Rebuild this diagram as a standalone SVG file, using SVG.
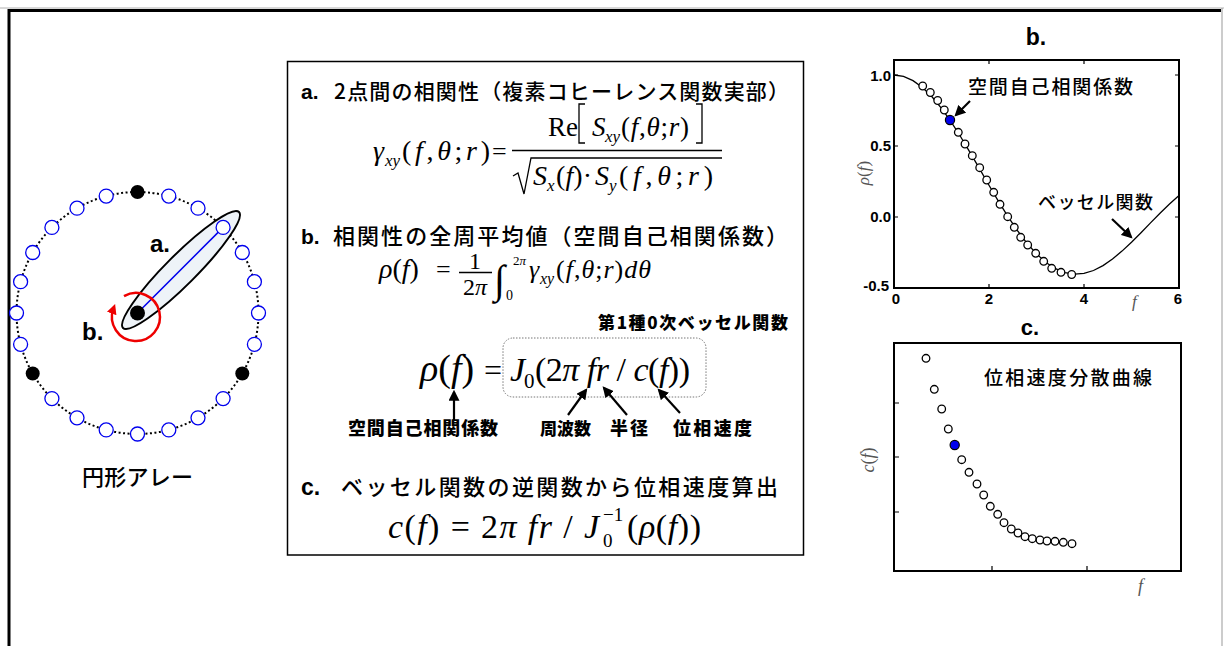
<svg xmlns="http://www.w3.org/2000/svg" width="1224" height="646" viewBox="0 0 1224 646">
<style>
.jp{font-family:"Noto Sans CJK JP","Noto Sans CJK SC",sans-serif}
.b{font-family:"Liberation Sans",Arial,sans-serif;font-weight:bold}
.m{font-family:"Liberation Serif","Times New Roman",serif}
.i{font-style:italic}
.sen{fill:#fff;stroke:#0000ee;stroke-width:1.3}
.blk{fill:#000}
.pt{fill:#fff;stroke:#000;stroke-width:1.3}
.ax{fill:none;stroke:#000;stroke-width:2}
.tk{stroke:#000;stroke-width:1.2}
.arr{stroke:#000;stroke-width:2.2;fill:none;marker-end:url(#ah)}
.lab{fill:#555}
.ln{fill:none;stroke:#000;stroke-width:1.3}
</style>
<defs>
<marker id="ah" viewBox="0 0 10 10" refX="8" refY="5" markerWidth="5" markerHeight="5" orient="auto" markerUnits="strokeWidth"><path d="M0,0 L10,5 L0,10 z" fill="#000"/></marker>
<marker id="rh" viewBox="0 0 10 10" refX="5" refY="5" markerWidth="4" markerHeight="4" orient="auto" markerUnits="strokeWidth"><path d="M0,0 L10,5 L0,10 z" fill="#ee0000"/></marker>
</defs>
<rect width="1224" height="646" fill="#fff"/>
<line x1="0" y1="8" x2="1224" y2="8" stroke="#b0b0b0" stroke-width="1"/>
<path d="M9,646 V10.5 H1221" fill="none" stroke="#000" stroke-width="3"/>
<line x1="1222" y1="8" x2="1222" y2="646" stroke="#999" stroke-width="1"/>

<!-- circular array -->
<g id="array">
<circle cx="137.5" cy="313" r="121" fill="none" stroke="#000" stroke-width="2" stroke-dasharray="2,2.5"/>
<ellipse cx="181" cy="270" rx="82" ry="15" transform="rotate(-45 181 270)" fill="#eef3f8" stroke="#000" stroke-width="2"/>
<line x1="137.5" y1="313" x2="223.1" y2="227.4" stroke="#0000ee" stroke-width="1.5"/>
<circle class="blk" cx="137.5" cy="192" r="7"/>
<circle class="sen" cx="168.8" cy="196.1" r="7"/>
<circle class="sen" cx="198" cy="208.2" r="7"/>
<circle class="sen" cx="223.1" cy="227.4" r="7"/>
<circle class="sen" cx="242.3" cy="252.5" r="7"/>
<circle class="sen" cx="254.4" cy="281.7" r="7"/>
<circle class="sen" cx="258.5" cy="313" r="7"/>
<circle class="sen" cx="254.4" cy="344.3" r="7"/>
<circle class="blk" cx="242.3" cy="373.5" r="7"/>
<circle class="sen" cx="223.1" cy="398.6" r="7"/>
<circle class="sen" cx="198" cy="417.8" r="7"/>
<circle class="sen" cx="168.8" cy="429.9" r="7"/>
<circle class="sen" cx="137.5" cy="434" r="7"/>
<circle class="sen" cx="106.2" cy="429.9" r="7"/>
<circle class="sen" cx="77" cy="417.8" r="7"/>
<circle class="sen" cx="51.9" cy="398.6" r="7"/>
<circle class="blk" cx="32.7" cy="373.5" r="7"/>
<circle class="sen" cx="20.6" cy="344.3" r="7"/>
<circle class="sen" cx="16.5" cy="313" r="7"/>
<circle class="sen" cx="20.6" cy="281.7" r="7"/>
<circle class="sen" cx="32.7" cy="252.5" r="7"/>
<circle class="sen" cx="51.9" cy="227.4" r="7"/>
<circle class="sen" cx="77" cy="208.2" r="7"/>
<circle class="sen" cx="106.2" cy="196.1" r="7"/>
<circle class="blk" cx="137.5" cy="313" r="7.5"/>
<path d="M124,296.2 A24,24 0 1 1 113.4,308.8" fill="none" stroke="#ee0000" stroke-width="2.5" marker-end="url(#rh)"/>
<text class="b" x="150" y="252" font-size="24">a.</text>
<text class="b" x="82" y="340" font-size="24">b.</text>
<text class="jp" x="82" y="485" font-size="22" font-weight="500" textLength="111">円形アレー</text>
</g>

<!-- center box -->
<g id="formulas">
<rect x="287.5" y="61.5" width="516" height="493.5" fill="none" stroke="#000" stroke-width="1.5"/>
<text class="b" x="301" y="99" font-size="21">a.</text>
<text class="jp" x="334" y="99" font-size="21" font-weight="500" textLength="455">2点間の相関性（複素コヒーレンス関数実部）</text>

<text class="m i" x="373" y="160" font-size="28">γ</text>
<text class="m i" x="385" y="166" font-size="17">xy</text>
<text class="m" x="402" y="160" font-size="28" textLength="88">(<tspan class="i">f</tspan>,<tspan class="i">θ</tspan>;<tspan class="i">r</tspan>)</text>
<text class="m" x="492" y="160" font-size="26">=</text>
<line x1="512" y1="150.5" x2="722" y2="150.5" stroke="#000" stroke-width="1.3"/>
<text class="m" x="548" y="136" font-size="27">Re</text>
<path class="ln" d="M585,104 H579 V143 H585"/>
<text class="m i" x="592" y="136" font-size="27">S</text>
<text class="m i" x="605" y="142" font-size="17">xy</text>
<text class="m" x="621" y="136" font-size="27" textLength="68">(<tspan class="i">f</tspan>,<tspan class="i">θ</tspan>;<tspan class="i">r</tspan>)</text>
<path class="ln" d="M696,104 H702 V143 H696"/>
<path class="ln" d="M513,176 L518,173 L524,194 L531,158 H722"/>
<text class="m i" x="533" y="185" font-size="28">S</text>
<text class="m i" x="547" y="191" font-size="17">x</text>
<text class="m" x="556" y="185" font-size="28" textLength="36">(<tspan class="i">f</tspan>)·</text>
<text class="m i" x="595" y="185" font-size="28">S</text>
<text class="m i" x="609" y="191" font-size="17">y</text>
<text class="m" x="619" y="185" font-size="28" textLength="94">(<tspan class="i">f</tspan>,<tspan class="i">θ</tspan>;<tspan class="i">r</tspan>)</text>

<text class="b" x="301" y="244" font-size="21">b.</text>
<text class="jp" x="333" y="244" font-size="22" font-weight="500" textLength="455">相関性の全周平均値（空間自己相関係数）</text>

<text class="m" x="379" y="278" font-size="28"><tspan class="i">ρ</tspan>(<tspan class="i">f</tspan>)</text>
<text class="m" x="436" y="278" font-size="26">=</text>
<text class="m" x="475" y="269" font-size="24" text-anchor="middle">1</text>
<line x1="459" y1="272.5" x2="492" y2="272.5" stroke="#000" stroke-width="1.3"/>
<text class="m" x="475" y="295" font-size="24" text-anchor="middle">2<tspan class="i">π</tspan></text>
<text class="m" x="494" y="293" font-size="40">∫</text>
<text class="m" x="513" y="265" font-size="13">2<tspan class="i">π</tspan></text>
<text class="m" x="506" y="300" font-size="14">0</text>
<text class="m i" x="529" y="278" font-size="26">γ</text>
<text class="m i" x="540" y="284" font-size="16">xy</text>
<text class="m" x="556" y="278" font-size="26" textLength="95">(<tspan class="i">f</tspan>,<tspan class="i">θ</tspan>;<tspan class="i">r</tspan>)<tspan class="i">dθ</tspan></text>

<text class="jp" x="598" y="329" font-size="17" font-weight="900" textLength="190">第1種0次ベッセル関数</text>

<text class="m" x="420" y="381" font-size="38"><tspan class="i">ρ</tspan>(<tspan class="i">f</tspan>)</text>
<text class="m" x="484" y="381" font-size="32">=</text>
<rect x="503" y="338" width="203" height="59" rx="10" fill="none" stroke="#777" stroke-width="1" stroke-dasharray="1.5,1.5"/>
<text class="m i" x="510" y="381" font-size="34">J</text>
<text class="m" x="524" y="388" font-size="21">0</text>
<text class="m" x="535" y="381" font-size="34" textLength="155">(2<tspan class="i">π fr</tspan> / <tspan class="i">c</tspan>(<tspan class="i">f</tspan>))</text>

<path class="arr" d="M454,420 V392"/>
<path class="arr" d="M568,415 L586,390"/>
<path class="arr" d="M627,415 L604,388"/>
<path class="arr" d="M680,413 L659,390"/>
<text class="jp" x="348" y="435" font-size="18" font-weight="900" textLength="150">空間自己相関係数</text>
<text class="jp" x="540" y="435" font-size="17" font-weight="900" textLength="51">周波数</text>
<text class="jp" x="610" y="435" font-size="18" font-weight="900" textLength="38">半径</text>
<text class="jp" x="673" y="435" font-size="18" font-weight="900" textLength="79">位相速度</text>

<text class="b" x="301" y="495" font-size="23">c.</text>
<text class="jp" x="341" y="495" font-size="22" font-weight="500" textLength="437">ベッセル関数の逆関数から位相速度算出</text>

<text class="m" x="388" y="538" font-size="34" textLength="211"><tspan class="i">c</tspan>(<tspan class="i">f</tspan>) = 2<tspan class="i">π fr</tspan> / <tspan class="i">J</tspan></text>
<text class="m" x="603" y="521" font-size="19">−1</text>
<text class="m" x="603" y="547" font-size="19">0</text>
<text class="m" x="627" y="538" font-size="34" textLength="74">(<tspan class="i">ρ</tspan>(<tspan class="i">f</tspan>))</text>
</g>

<!-- plot b -->
<g id="plot-b">
<text class="b" x="1036" y="45" font-size="23" text-anchor="middle">b.</text>
<rect class="ax" x="894" y="60" width="285" height="228"/>
<path class="tk" d="M894,75 h4 M894,146 h4 M894,217 h4 M1179,75 h-4 M1179,146 h-4 M1179,217 h-4 M989,288 v-4 M1084,288 v-4 M989,60 v4 M1084,60 v4"/>
<path fill="none" stroke="#000" stroke-width="1.3" d="M894,75 L903.5,76.4 L913,80.6 L922.5,87.5 L932,96.8 L941.5,108.3 L951,121.7 L960.5,136.5 L970,152.3 L979.5,168.7 L989,185.2 L998.5,201.3 L1008,216.6 L1017.5,230.7 L1027,243.3 L1036.5,253.9 L1046,262.5 L1055.5,268.7 L1065,272.6 L1074.5,274.2 L1084,273.4 L1093.5,270.5 L1103,265.6 L1112.5,259 L1122,251.1 L1131.5,242.2 L1141,232.7 L1150.5,222.9 L1160,213.2 L1169.5,204 L1179,195.6"/>
<circle class="pt" cx="922.7" cy="86" r="3.8"/>
<circle class="pt" cx="930.3" cy="92.5" r="3.8"/>
<circle class="pt" cx="937.7" cy="100.5" r="3.8"/>
<circle class="pt" cx="944.3" cy="110" r="3.8"/>
<circle class="pt" cx="958.3" cy="132.3" r="3.8"/>
<circle class="pt" cx="965" cy="144" r="3.8"/>
<circle class="pt" cx="972.3" cy="155.7" r="3.8"/>
<circle class="pt" cx="979.7" cy="167.7" r="3.8"/>
<circle class="pt" cx="986.7" cy="180" r="3.8"/>
<circle class="pt" cx="993.7" cy="192.3" r="3.8"/>
<circle class="pt" cx="1000" cy="204.3" r="3.8"/>
<circle class="pt" cx="1007.7" cy="216.7" r="3.8"/>
<circle class="pt" cx="1014.3" cy="227.3" r="3.8"/>
<circle class="pt" cx="1020.7" cy="237.3" r="3.8"/>
<circle class="pt" cx="1027.7" cy="245" r="3.8"/>
<circle class="pt" cx="1035.7" cy="253.3" r="3.8"/>
<circle class="pt" cx="1043.7" cy="261.3" r="3.8"/>
<circle class="pt" cx="1051.7" cy="268.3" r="3.8"/>
<circle class="pt" cx="1061" cy="272.3" r="3.8"/>
<circle class="pt" cx="1071.7" cy="274.5" r="3.8"/>
<circle cx="950" cy="120" r="4.6" fill="#0000ee" stroke="#000" stroke-width="1.2"/>
<text class="b" x="891" y="81" font-size="15" text-anchor="end">1.0</text>
<text class="b" x="891" y="151" font-size="15" text-anchor="end">0.5</text>
<text class="b" x="891" y="222" font-size="15" text-anchor="end">0.0</text>
<text class="b" x="889" y="291" font-size="15" text-anchor="end">-0.5</text>
<text class="b" x="896" y="304" font-size="15" text-anchor="middle">0</text>
<text class="b" x="989" y="304" font-size="15" text-anchor="middle">2</text>
<text class="b" x="1084" y="304" font-size="15" text-anchor="middle">4</text>
<text class="b" x="1178" y="304" font-size="15" text-anchor="middle">6</text>
<text class="m lab" transform="translate(869 173) rotate(-90)" font-size="17" text-anchor="middle"><tspan class="i">ρ</tspan>(<tspan class="i">f</tspan>)</text>
<text class="m i lab" x="1132" y="307" font-size="17">f</text>
<text class="jp" x="968" y="94" font-size="19" font-weight="500" textLength="165">空間自己相関係数</text>
<path class="arr" d="M970,101 L956,115"/>
<text class="jp" x="1038" y="209" font-size="18" font-weight="500" textLength="115">ベッセル関数</text>
<path class="arr" d="M1112,219 L1131,237"/>
</g>

<!-- plot c -->
<g id="plot-c">
<text class="b" x="1030" y="335" font-size="22" text-anchor="middle">c.</text>
<rect class="ax" x="894" y="343" width="287" height="228"/>
<path class="tk" d="M894,403 h5 M894,457 h5 M894,512 h5 M992,571 v-5 M1087,571 v-5"/>
<circle class="pt" cx="926" cy="358.3" r="3.8"/>
<circle class="pt" cx="934.3" cy="389.3" r="3.8"/>
<circle class="pt" cx="941.7" cy="409" r="3.8"/>
<circle class="pt" cx="948.3" cy="429" r="3.8"/>
<circle class="pt" cx="961.7" cy="459.7" r="3.8"/>
<circle class="pt" cx="969" cy="472.3" r="3.8"/>
<circle class="pt" cx="977" cy="484" r="3.8"/>
<circle class="pt" cx="983.7" cy="495" r="3.8"/>
<circle class="pt" cx="990.3" cy="506.3" r="3.8"/>
<circle class="pt" cx="997.7" cy="514.3" r="3.8"/>
<circle class="pt" cx="1004" cy="522.7" r="3.8"/>
<circle class="pt" cx="1011.3" cy="529" r="3.8"/>
<circle class="pt" cx="1018" cy="533" r="3.8"/>
<circle class="pt" cx="1025" cy="536.7" r="3.8"/>
<circle class="pt" cx="1032.3" cy="538.7" r="3.8"/>
<circle class="pt" cx="1040" cy="540" r="3.8"/>
<circle class="pt" cx="1047" cy="541" r="3.8"/>
<circle class="pt" cx="1055" cy="541.3" r="3.8"/>
<circle class="pt" cx="1063.3" cy="542.3" r="3.8"/>
<circle class="pt" cx="1072" cy="543.7" r="3.8"/>
<circle cx="954.7" cy="445" r="4.6" fill="#0000ee" stroke="#000" stroke-width="1.2"/>
<text class="jp" x="984" y="385" font-size="19" font-weight="500" textLength="168">位相速度分散曲線</text>
<text class="m lab" transform="translate(874 460) rotate(-90)" font-size="18" text-anchor="middle"><tspan class="i">c</tspan>(<tspan class="i">f</tspan>)</text>
<text class="m i lab" x="1138" y="592" font-size="18">f</text>
</g>
</svg>
